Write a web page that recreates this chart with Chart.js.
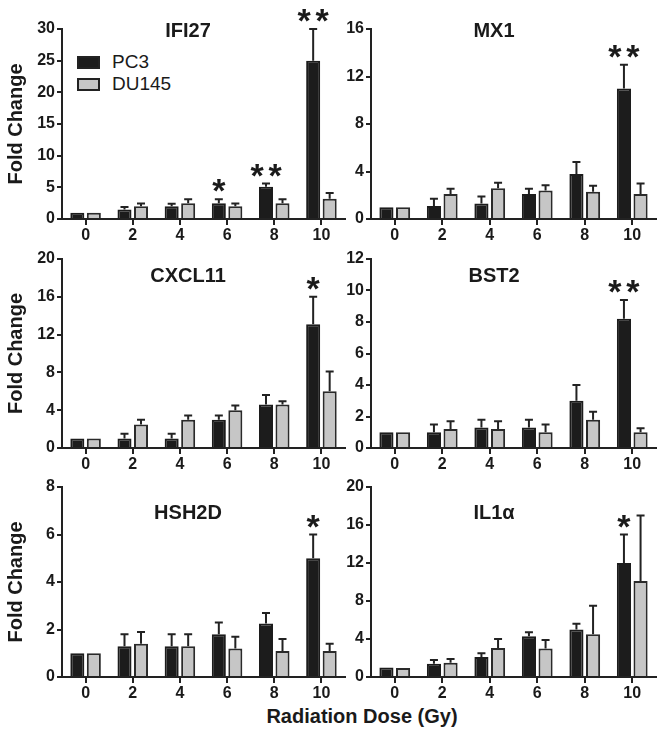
<!DOCTYPE html>
<html>
<head>
<meta charset="utf-8">
<script src="https://cdn.jsdelivr.net/npm/chart.js@4.4.1/dist/chart.umd.min.js"></script>
<style>
  body { margin: 0; background: #fff; width: 664px; height: 735px; position: relative; overflow: hidden;
         font-family: "Liberation Sans", Arial, sans-serif; color: #1a1a1a; }
  canvas { position: absolute; }
  #xtitle { position: absolute; left: 212px; width: 300px; top: 704px; text-align: center;
            font-weight: bold; font-size: 20px; line-height: 24px; }
  #legend { position: absolute; left: 77px; top: 51px; }
  .item { display: flex; align-items: center; height: 22px; font-size: 19px; }
  .box { width: 23px; height: 13px; box-sizing: border-box; border: 2px solid #222; margin-right: 12px; }
</style>
</head>
<body>
<div id="legend"></div>
<div id="xtitle">Radiation Dose (Gy)</div>
<script>
// categories and series
var doses = ['0', '2', '4', '6', '8', '10'];
var seriesNames = ['PC3', 'DU145'];
var seriesFill = ['#1c1c1c', '#c6c6c6'];

// IFI27
var ifi27Pc3 = [1.0, 1.5, 2.0, 2.5, 5.1, 25.0];
var ifi27Pc3Err = [0, 0.4, 0.4, 0.6, 0.5, 5.0];
var ifi27Du145 = [1.0, 2.0, 2.5, 2.0, 2.5, 3.2];
var ifi27Du145Err = [0, 0.45, 0.6, 0.45, 0.6, 0.9];
var ifi27Sig = ['', '', '', '*', '**', '**'];
var ifi27Ticks = [0, 5, 10, 15, 20, 25, 30];

// MX1
var mx1Pc3 = [1.0, 1.1, 1.3, 2.1, 3.8, 11.0];
var mx1Pc3Err = [0, 0.6, 0.6, 0.45, 1.0, 2.0];
var mx1Du145 = [1.0, 2.1, 2.6, 2.4, 2.3, 2.1];
var mx1Du145Err = [0, 0.45, 0.45, 0.45, 0.5, 0.9];
var mx1Sig = ['', '', '', '', '', '**'];
var mx1Ticks = [0, 4, 8, 12, 16];

// CXCL11
var cxcl11Pc3 = [1.0, 1.0, 1.0, 3.0, 4.6, 13.1];
var cxcl11Pc3Err = [0, 0.5, 0.5, 0.45, 1.0, 2.9];
var cxcl11Du145 = [1.0, 2.5, 3.0, 4.0, 4.6, 6.0];
var cxcl11Du145Err = [0, 0.5, 0.45, 0.5, 0.35, 2.1];
var cxcl11Sig = ['', '', '', '', '', '*'];
var cxcl11Ticks = [0, 4, 8, 12, 16, 20];

// BST2
var bst2Pc3 = [1.0, 1.0, 1.3, 1.3, 3.0, 8.2];
var bst2Pc3Err = [0, 0.5, 0.5, 0.5, 1.0, 1.2];
var bst2Du145 = [1.0, 1.2, 1.2, 1.0, 1.8, 1.0];
var bst2Du145Err = [0, 0.5, 0.5, 0.5, 0.5, 0.25];
var bst2Sig = ['', '', '', '', '', '**'];
var bst2Ticks = [0, 2, 4, 6, 8, 10, 12];

// HSH2D
var hsh2dPc3 = [1.0, 1.3, 1.3, 1.8, 2.25, 5.0];
var hsh2dPc3Err = [0, 0.5, 0.5, 0.5, 0.45, 1.0];
var hsh2dDu145 = [1.0, 1.4, 1.3, 1.2, 1.1, 1.1];
var hsh2dDu145Err = [0, 0.5, 0.5, 0.5, 0.5, 0.3];
var hsh2dSig = ['', '', '', '', '', '*'];
var hsh2dTicks = [0, 2, 4, 6, 8];

// IL1a
var il1aPc3 = [1.0, 1.4, 2.1, 4.3, 5.0, 12.0];
var il1aPc3Err = [0, 0.4, 0.4, 0.4, 0.6, 3.0];
var il1aDu145 = [0.95, 1.5, 3.05, 3.0, 4.5, 10.1];
var il1aDu145Err = [0, 0.4, 0.95, 0.9, 3.0, 6.9];
var il1aSig = ['', '', '', '', '', '*'];
var il1aTicks = [0, 4, 8, 12, 16, 20];

var FONT = '"Liberation Sans", Arial, sans-serif';
var INK = '#1a1a1a';

// legend
var legendEl = document.getElementById('legend');
seriesNames.forEach(function(name, i) {
    var row = document.createElement('div');
    row.className = 'item';
    row.innerHTML = '<span class="box" style="background:' + seriesFill[i] + '"></span>' + name;
    legendEl.appendChild(row);
});

var errorBars = {
    id: 'errorBars',
    afterDatasetsDraw: function(chart) {
        var ctx = chart.ctx, y = chart.scales.y;
        chart.data.datasets.forEach(function(ds, i) {
            chart.getDatasetMeta(i).data.forEach(function(bar, j) {
                var e = ds.errors[j];
                if (!e) return;
                var top = y.getPixelForValue(ds.data[j] + e);
                ctx.save();
                ctx.strokeStyle = '#222';
                ctx.lineWidth = 2;
                ctx.beginPath();
                ctx.moveTo(bar.x, bar.y);
                ctx.lineTo(bar.x, top);
                ctx.moveTo(bar.x - 4, top);
                ctx.lineTo(bar.x + 4, top);
                ctx.stroke();
                ctx.restore();
            });
        });
    }
};

// asterisks above the PC3 bar, one glyph per star, spaced apart
var sigMarks = {
    id: 'sigMarks',
    afterDraw: function(chart) {
        var ctx = chart.ctx, y = chart.scales.y;
        var ds = chart.data.datasets[0];
        chart.getDatasetMeta(0).data.forEach(function(bar, j) {
            var s = ds.sig[j];
            if (!s) return;
            var top = y.getPixelForValue(ds.data[j] + ds.errors[j]);
            ctx.save();
            ctx.fillStyle = INK;
            ctx.font = 'bold 34px ' + FONT;
            ctx.textAlign = 'center';
            ctx.textBaseline = 'alphabetic';
            for (var k = 0; k < s.length; k++) {
                ctx.fillText('*', bar.x + (k - (s.length - 1) / 2) * 18, top + 3);
            }
            ctx.restore();
        });
    }
};

var panelTitle = {
    id: 'panelTitle',
    afterDraw: function(chart, args, opts) {
        var ctx = chart.ctx;
        ctx.save();
        ctx.fillStyle = INK;
        ctx.font = 'bold 20px ' + FONT;
        ctx.textAlign = 'center';
        ctx.textBaseline = 'middle';
        ctx.fillText(opts.text, opts.x, opts.y);
        ctx.restore();
    }
};

var cols = [
    { left: 0, width: 350, chartLeft: 62, chartRight: 345, titleX: 188 },
    { left: 340, width: 324, chartLeft: 371, chartRight: 656, titleX: 154 }
];
var rows = [
    { top: 0, height: 245, chartTop: 29, chartBottom: 219, titleY: 31 },
    { top: 245, height: 230, chartTop: 259, chartBottom: 448, titleY: 31 },
    { top: 475, height: 228, chartTop: 487, chartBottom: 677, titleY: 38 }
];

function makePanel(title, col, row, pc3, pc3Err, du, duErr, sig, ticks) {
    var c = cols[col], r = rows[row];
    var canvas = document.createElement('canvas');
    canvas.width = c.width;
    canvas.height = r.height;
    canvas.style.left = c.left + 'px';
    canvas.style.top = r.top + 'px';
    document.body.appendChild(canvas);

    var tickFont = { family: FONT, size: 16, weight: 'bold' };
    new Chart(canvas.getContext('2d'), {
        type: 'bar',
        data: {
            labels: doses,
            datasets: [
                { label: seriesNames[0], data: pc3, errors: pc3Err, sig: sig,
                  backgroundColor: seriesFill[0], borderColor: '#1c1c1c', borderWidth: 2,
                  categoryPercentage: 0.7, barPercentage: 0.85 },
                { label: seriesNames[1], data: du, errors: duErr,
                  backgroundColor: seriesFill[1], borderColor: '#2a2a2a', borderWidth: 2,
                  categoryPercentage: 0.7, barPercentage: 0.85 }
            ]
        },
        options: {
            responsive: false,
            animation: false,
            devicePixelRatio: 1,
            layout: { padding: { top: r.chartTop - r.top, right: c.left + c.width - c.chartRight, left: 0, bottom: 0 } },
            plugins: {
                legend: { display: false },
                tooltip: { enabled: false },
                panelTitle: { text: title, x: c.titleX, y: r.titleY }
            },
            scales: {
                x: {
                    grid: { offset: false, drawOnChartArea: false, tickLength: 6, lineWidth: 2, color: '#222' },
                    border: { color: '#222', width: 2 },
                    ticks: { font: tickFont, color: INK, padding: 1, maxRotation: 0 },
                    afterFit: function(s) { s.height = r.top + r.height - r.chartBottom; }
                },
                y: {
                    min: 0,
                    max: ticks[ticks.length - 1],
                    afterBuildTicks: function(s) { s.ticks = ticks.map(function(v) { return { value: v }; }); },
                    grid: { drawOnChartArea: false, tickLength: 5, lineWidth: 2, color: '#222' },
                    border: { color: '#222', width: 2 },
                    ticks: { font: tickFont, color: INK, padding: 2 },
                    title: { display: col === 0, text: 'Fold Change', color: INK,
                             font: { family: FONT, size: 20, weight: 'bold' }, padding: { top: 4, bottom: 0 } },
                    afterFit: function(s) { s.width = c.chartLeft - c.left; }
                }
            }
        },
        plugins: [errorBars, sigMarks, panelTitle]
    });
}

makePanel('IFI27', 0, 0, ifi27Pc3, ifi27Pc3Err, ifi27Du145, ifi27Du145Err, ifi27Sig, ifi27Ticks);
makePanel('MX1', 1, 0, mx1Pc3, mx1Pc3Err, mx1Du145, mx1Du145Err, mx1Sig, mx1Ticks);
makePanel('CXCL11', 0, 1, cxcl11Pc3, cxcl11Pc3Err, cxcl11Du145, cxcl11Du145Err, cxcl11Sig, cxcl11Ticks);
makePanel('BST2', 1, 1, bst2Pc3, bst2Pc3Err, bst2Du145, bst2Du145Err, bst2Sig, bst2Ticks);
makePanel('HSH2D', 0, 2, hsh2dPc3, hsh2dPc3Err, hsh2dDu145, hsh2dDu145Err, hsh2dSig, hsh2dTicks);
makePanel('IL1α', 1, 2, il1aPc3, il1aPc3Err, il1aDu145, il1aDu145Err, il1aSig, il1aTicks);
</script>
</body>
</html>
